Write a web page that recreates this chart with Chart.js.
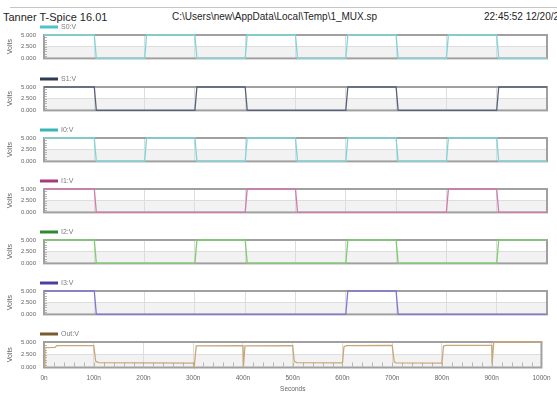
<!DOCTYPE html>
<html>
<head>
<meta charset="utf-8">
<script src="https://cdn.jsdelivr.net/npm/chart.js@4.4.1/dist/chart.umd.min.js"></script>
<style>
  body { margin: 0; background: #fff; font-family: "Liberation Sans", Arial, sans-serif; }
  #page { position: relative; width: 557px; height: 393px; overflow: hidden; }
  #rule { position: absolute; left: 10px; right: 0; top: 7px; border-top: 1px solid #c4c4c4; }
  .hdr { position: absolute; top: 11px; font-size: 11px; line-height: 12px; color: #1e1e1e; white-space: nowrap; }
  canvas { position: absolute; left: 0; }
</style>
</head>
<body>
<div id="page">
  <div id="rule"></div>
  <div class="hdr" style="left:3px">Tanner T-Spice 16.01</div>
  <div class="hdr" style="left:172px;font-size:10px">C:\Users\new\AppData\Local\Temp\1_MUX.sp</div>
  <div class="hdr" style="left:484px;font-size:10px">22:45:52 12/20/20</div>
</div>
<script>
// time in ns, values in volts
const edgeTimes = [0, 100, 104, 200, 204, 300, 304, 400, 404, 500, 504, 600, 604, 700, 704, 800, 804, 900, 904, 1000]
const s0Volts = [5, 5, 0, 0, 5, 5, 0, 0, 5, 5, 0, 0, 5, 5, 0, 0, 5, 5, 0, 0]
const s1Volts = [5, 5, 0, 0, 0, 0, 5, 5, 0, 0, 0, 0, 5, 5, 0, 0, 0, 0, 5, 5]
const i0Volts = [5, 5, 0, 0, 5, 5, 0, 0, 5, 5, 0, 0, 5, 5, 0, 0, 5, 5, 0, 0]
const i1Volts = [5, 5, 0, 0, 0, 0, 0, 0, 5, 5, 0, 0, 0, 0, 0, 0, 5, 5, 0, 0]
const i2Volts = [5, 5, 0, 0, 0, 0, 5, 5, 0, 0, 0, 0, 5, 5, 0, 0, 0, 0, 5, 5]
const i3Volts = [5, 5, 0, 0, 0, 0, 0, 0, 0, 0, 0, 0, 5, 5, 0, 0, 0, 0, 0, 0]

const outTimes = [0, 2, 22, 26, 100, 104, 110, 200, 300, 302, 306, 400, 401, 404, 500, 503, 508, 600, 603, 608, 700, 704, 708, 800, 803, 808, 900, 901, 904, 1000]
const outVolts = [0.3, 3.9, 3.95, 4.3, 4.3, 1.2, 0.95, 0.9, 0.85, 0.2, 4.25, 4.3, 0.2, 4.25, 4.3, 1.2, 0.95, 0.9, 4.1, 4.3, 4.35, 1.1, 0.9, 0.85, 4.2, 4.35, 4.35, 0.8, 5.0, 5.0]

const yTickValues = [0, 2.5, 5]
const yTickLabels = ["0.000", "2.500", "5.000"]
const xTickValues = [0, 100, 200, 300, 400, 500, 600, 700, 800, 900, 1000]
const xTickLabels = ["0n", "100n", "200n", "300n", "400n", "500n", "600n", "700n", "800n", "900n", "1000n"]

const panels = [
  { label: "S0:V", times: edgeTimes, volts: s0Volts, key: "#4cc4c8", line: "#7fd6da", top: 35 },
  { label: "S1:V", times: edgeTimes, volts: s1Volts, key: "#2d3a50", line: "#56627a", top: 87 },
  { label: "I0:V", times: edgeTimes, volts: i0Volts, key: "#3bb5b8", line: "#7dd5d8", top: 138 },
  { label: "I1:V", times: edgeTimes, volts: i1Volts, key: "#a83a7a", line: "#d07ab0", top: 189 },
  { label: "I2:V", times: edgeTimes, volts: i2Volts, key: "#2e8a2e", line: "#80cc70", top: 240 },
  { label: "I3:V", times: edgeTimes, volts: i3Volts, key: "#4a40a0", line: "#8078d0", top: 291 },
  { label: "Out:V", times: outTimes, volts: outVolts, key: "#7a5a30", line: "#c8a878", top: 342 }
]

Chart.defaults.font.family = '"Liberation Sans", Arial, sans-serif'

// light lower band, frame, small inner ticks and the trace label
const scopeFrame = {
  id: "scopeFrame",
  beforeDraw(chart) {
    const { ctx, chartArea: a, scales: { y } } = chart
    const mid = y.getPixelForValue(2.5)
    ctx.save()
    ctx.fillStyle = "#f2f2f2"
    ctx.fillRect(a.left, mid, a.width, a.bottom - mid)
    ctx.restore()
  },
  beforeDatasetsDraw(chart, args, opts) {
    const { ctx, chartArea: a, scales: { x, y } } = chart
    ctx.save()
    ctx.strokeStyle = "#a0a0a0"
    ctx.lineWidth = 2
    ctx.strokeRect(a.left, a.top, a.width, a.height)
    ctx.lineWidth = 1
    ctx.strokeStyle = "#b4b4b4"
    ctx.beginPath()
    for (let v = 0.5; v < 5; v += 0.5) {
      const py = Math.round(y.getPixelForValue(v)) + 0.5
      ctx.moveTo(a.left + 1, py)
      ctx.lineTo(a.left + 3, py)
    }
    if (opts.minorX) {
      for (let t = 20; t < 1000; t += 20) {
        const px = Math.round(x.getPixelForValue(t)) + 0.5
        ctx.moveTo(px, a.bottom - 1)
        ctx.lineTo(px, a.bottom - 5)
      }
    }
    ctx.stroke()
    ctx.restore()
  },
  afterDraw(chart, args, opts) {
    const { ctx, chartArea: a } = chart
    const ly = a.top - 8
    ctx.save()
    ctx.strokeStyle = opts.color
    ctx.lineWidth = 3
    ctx.beginPath()
    ctx.moveTo(a.left - 4, ly)
    ctx.lineTo(a.left + 14, ly)
    ctx.stroke()
    ctx.fillStyle = "#7a7a7a"
    ctx.font = '7px "Liberation Sans", Arial, sans-serif'
    ctx.textBaseline = "middle"
    ctx.fillText(chart.data.datasets[0].label, a.left + 17, ly)
    ctx.restore()
  }
}

const page = document.getElementById("page")

panels.forEach((p, i) => {
  const last = i === panels.length - 1
  const canvas = document.createElement("canvas")
  const h = last ? 393 - (p.top - 14) : 49
  canvas.width = 557
  canvas.height = h
  canvas.style.top = (p.top - 14) + "px"
  canvas.style.width = "557px"
  canvas.style.height = h + "px"
  page.appendChild(canvas)

  new Chart(canvas.getContext("2d"), {
    type: "line",
    data: {
      datasets: [
        {
          label: p.label,
          data: p.times.map((t, k) => ({ x: t, y: p.volts[k] })),
          borderColor: p.line,
          borderWidth: 1.3,
          pointRadius: 0,
          tension: 0,
          clip: 4
        }
      ]
    },
    options: {
      responsive: false,
      animation: false,
      devicePixelRatio: 1,
      layout: { padding: { top: 14, right: 10, bottom: last ? 0 : 6, left: 0 } },
      scales: {
        x: {
          type: "linear",
          min: 0,
          max: 1000,
          afterBuildTicks: s => { s.ticks = xTickValues.map(v => ({ value: v })) },
          border: { display: false },
          grid: { color: "#dddddd", drawTicks: false },
          ticks: {
            display: last,
            autoSkip: false,
            maxRotation: 0,
            padding: 6.5,
            color: "#666",
            font: { size: 6.5 },
            callback: v => xTickLabels[xTickValues.indexOf(v)]
          },
          title: {
            display: last,
            text: "Seconds",
            color: "#666",
            font: { size: 6.5 },
            padding: { top: 0, bottom: 0 }
          }
        },
        y: {
          min: 0,
          max: 5,
          afterBuildTicks: s => { s.ticks = yTickValues.map(v => ({ value: v })) },
          afterFit: s => { s.width = 44 },
          border: { display: false },
          grid: {
            drawTicks: false,
            color: c => (c.tick && c.tick.value === 2.5 ? "#dddddd" : "rgba(0,0,0,0)")
          },
          ticks: {
            padding: 8,
            color: "#666",
            font: { size: 6 },
            callback: v => yTickLabels[yTickValues.indexOf(v)]
          },
          title: {
            display: true,
            text: "Volts",
            color: "#666",
            font: { size: 7 },
            padding: { top: 6, bottom: 0 }
          }
        }
      },
      plugins: {
        legend: { display: false },
        tooltip: { enabled: false },
        scopeFrame: { color: p.key, minorX: last }
      }
    },
    plugins: [scopeFrame]
  })
})
</script>
</body>
</html>
